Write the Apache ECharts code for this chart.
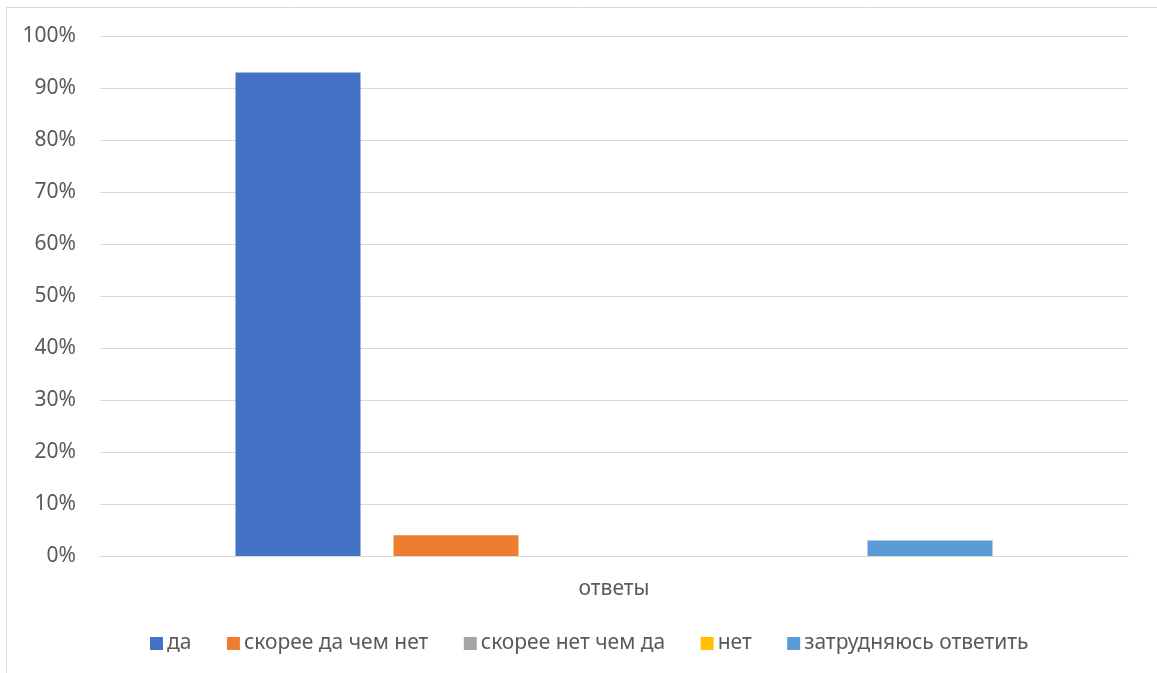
<!DOCTYPE html>
<html><head><meta charset="utf-8">
<script src="https://cdn.jsdelivr.net/npm/echarts@6/dist/echarts.min.js"></script>
<style>html,body{margin:0;padding:0;background:#fff}#c{width:1157px;height:673px}</style>
</head><body><div id="c"></div>
<script>
const categories = ['ответы'];
const seriesNames = ['да', 'скорее да чем нет', 'скорее нет чем да', 'нет', 'затрудняюсь ответить'];
const seriesValues = [[93], [4], [0], [0], [3]];
const colors = ['#4472C4', '#ED7D31', '#A5A5A5', '#FFC000', '#5B9BD5'];
const yTicks = [0, 10, 20, 30, 40, 50, 60, 70, 80, 90, 100];

const FONT = '"Noto Sans", sans-serif';
const chart = echarts.init(document.getElementById('c'), null, {renderer: 'canvas'});
chart.setOption({
  animation: false,
  color: colors,
  textStyle: {fontFamily: FONT},
  graphic: [{type: 'rect', shape: {x: 6.5, y: 7.5, width: 1200, height: 700},
    style: {fill: 'none', stroke: '#d9d9d9', lineWidth: 1}, silent: true}],
  grid: {left: 100, right: 29, top: 36, bottom: 117, containLabel: false},
  legend: {
    left: 145, top: 628, itemWidth: 13, itemHeight: 13, itemGap: 35.5,
    icon: 'rect',
    textStyle: {color: '#595959', fontSize: 21, fontFamily: FONT, padding: [0, 0, 0, -1]},
    data: seriesNames
  },
  xAxis: {
    type: 'category', data: categories,
    axisLine: {lineStyle: {color: '#d9d9d9'}}, axisTick: {show: false},
    axisLabel: {color: '#595959', fontSize: 21, margin: 23, fontFamily: FONT}
  },
  yAxis: {
    type: 'value', min: yTicks[0], max: yTicks[yTicks.length - 1], interval: 10,
    axisLine: {show: false}, axisTick: {show: false},
    splitLine: {lineStyle: {color: '#d9d9d9', width: 1}},
    axisLabel: {color: '#595959', fontSize: 21, margin: 24, fontFamily: FONT, formatter: v => v + '%'}
  },
  series: seriesNames.map((n, i) => ({
    name: n, type: 'bar', data: seriesValues[i], barWidth: 125, barGap: '26.4%'
  }))
});
</script></body></html>
